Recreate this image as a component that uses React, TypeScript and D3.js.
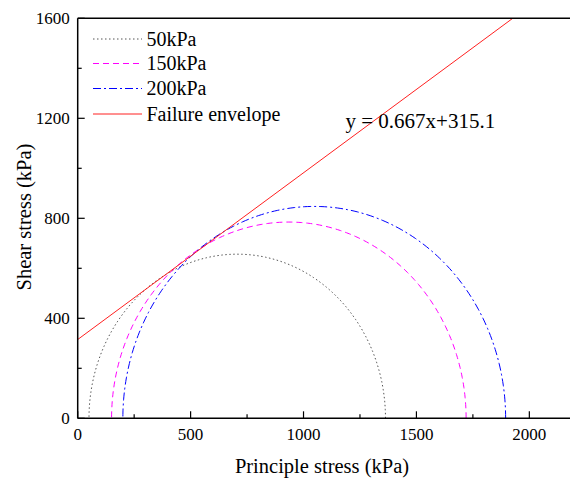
import React from "react";
import * as d3 from "d3";

const seriesNames = ["50kPa", "150kPa", "200kPa"];
const sigma3 = [50, 150, 200];
const sigma1 = [1363, 1720, 1895];
const colors = ["#555555", "#ff00ff", "#0000ff"];
const dashes = ["1.5,2.5", "6,4", "8,3,2,3"];
const envSlope = 0.667;
const envIntercept = 315.1;
const envLabel = "y = 0.667x+315.1";
const xMajor = [0, 500, 1000, 1500, 2000];
const xMinor = [250, 750, 1250, 1750, 2250];
const yMajor = [0, 400, 800, 1200, 1600];
const yMinor = [200, 600, 1000, 1400];

export default function App() {
  const W = 570, H = 485;
  const x = d3.scaleLinear().domain([0, 2200]).range([77.7, 574.5]);
  const y = d3.scaleLinear().domain([0, 1600]).range([418.3, 18.3]);
  const font = "'Liberation Serif', 'Times New Roman', serif";

  const circlePath = (s3: number, s1: number) => {
    const c = (s1 + s3) / 2, r = (s1 - s3) / 2;
    const pts = d3.range(0, 181).map((d) => {
      const a = (Math.PI * d) / 180;
      return [c + r * Math.cos(a), r * Math.sin(a)] as [number, number];
    });
    return d3.line<[number, number]>().x((p) => x(p[0])).y((p) => y(p[1]))(pts) || "";
  };

  const xEnd = (1600 - envIntercept) / envSlope;
  const env = d3.line<[number, number]>().x((p) => x(p[0])).y((p) => y(p[1]))([
    [0, envIntercept],
    [xEnd, 1600],
  ]) || "";

  const legendY = [39, 63.5, 88.5, 114];
  return (
    <svg width={W} height={H} style={{ position: "absolute", left: 0, top: 0, background: "#fff" }}>
      <defs>
        <clipPath id="plot">
          <rect x={x(0)} y={y(1600)} width={x(2200) - x(0)} height={y(0) - y(1600)} />
        </clipPath>
      </defs>
      <g clipPath="url(#plot)">
        {seriesNames.map((n, i) => (
          <path key={n} d={circlePath(sigma3[i], sigma1[i])} fill="none" stroke={colors[i]} strokeWidth={1} strokeDasharray={dashes[i]} />
        ))}
        <path d={env} fill="none" stroke="#ff2020" strokeWidth={1} />
      </g>
      <line x1={x(0)} x2={x(0)} y1={y(1600)} y2={y(0)} stroke="#000" strokeWidth={1.5} />
      <line x1={x(0)} x2={W} y1={y(0)} y2={y(0)} stroke="#000" strokeWidth={1.5} />
      <line x1={x(0)} x2={W} y1={y(1600)} y2={y(1600)} stroke="#000" strokeWidth={1.5} />
      {xMajor.map((v) => (
        <g key={"xm" + v}>
          <line x1={x(v)} x2={x(v)} y1={y(0)} y2={y(0) - 7} stroke="#000" strokeWidth={1.2} />
          <text x={x(v)} y={y(0) + 22} textAnchor="middle" fontFamily={font} fontSize={17}>{v}</text>
        </g>
      ))}
      {xMinor.map((v) => (
        <line key={"xn" + v} x1={x(v)} x2={x(v)} y1={y(0)} y2={y(0) - 4} stroke="#000" strokeWidth={1.2} />
      ))}
      {yMajor.map((v) => (
        <g key={"ym" + v}>
          <line x1={x(0)} x2={x(0) + 7} y1={y(v)} y2={y(v)} stroke="#000" strokeWidth={1.2} />
          <text x={x(0) - 8} y={y(v) + 6} textAnchor="end" fontFamily={font} fontSize={17}>{v}</text>
        </g>
      ))}
      {yMinor.map((v) => (
        <line key={"yn" + v} x1={x(0)} x2={x(0) + 4} y1={y(v)} y2={y(v)} stroke="#000" strokeWidth={1.2} />
      ))}
      <text x={322} y={473} textAnchor="middle" fontFamily={font} fontSize={20.5}>Principle stress (kPa)</text>
      <text transform={`translate(31,${y(805)}) rotate(-90)`} textAnchor="middle" fontFamily={font} fontSize={20.5}>Shear stress (kPa)</text>
      {seriesNames.map((n, i) => (
        <g key={"lg" + n}>
          <line x1={93} x2={142} y1={legendY[i]} y2={legendY[i]} stroke={colors[i]} strokeWidth={1} strokeDasharray={dashes[i]} />
          <text x={146.5} y={legendY[i] + 6.5} fontFamily={font} fontSize={20}>{n}</text>
        </g>
      ))}
      <line x1={93} x2={142} y1={legendY[3]} y2={legendY[3]} stroke="#ff2020" strokeWidth={1} />
      <text x={146.5} y={legendY[3] + 6.5} fontFamily={font} fontSize={20}>Failure envelope</text>
      <text x={345.5} y={128} fontFamily={font} fontSize={21}>{envLabel}</text>
    </svg>
  );
}
